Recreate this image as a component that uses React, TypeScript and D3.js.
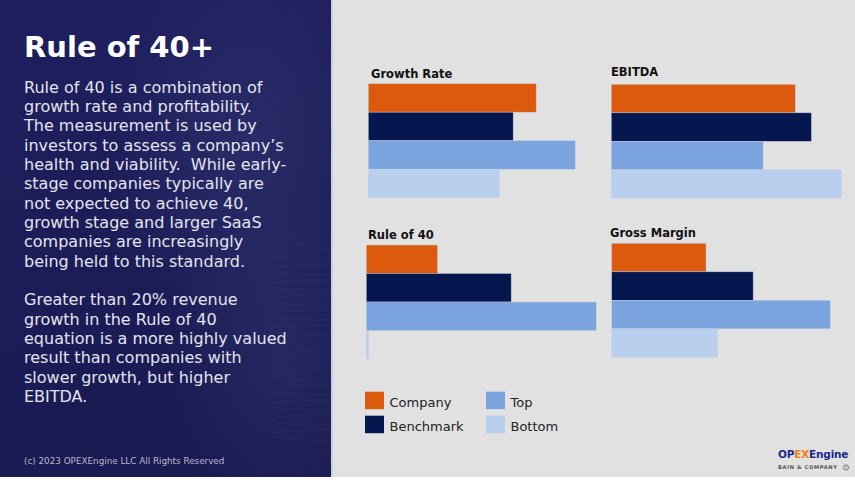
import React from "react";
import * as d3 from "d3";

const categories = ["Company", "Benchmark", "Top", "Bottom"];
const colors = ["#DC5A0E", "#06164F", "#7BA3DE", "#B9CFEE"];
const panelTitles = ["Growth Rate", "EBITDA", "Rule of 40", "Gross Margin"];
const growthRate = [73, 63, 90, 57];
const ebitda = [80, 87, 66, 100];
const ruleOf40 = [31, 63, 100, 1];
const grossMargin = [41, 61.5, 95, 46];

const bodyLines = [
  "Rule of 40 is a combination of",
  "growth rate and profitability.",
  "The measurement is used by",
  "investors to assess a company\u2019s",
  "health and viability.  While early-",
  "stage companies typically are",
  "not expected to achieve 40,",
  "growth stage and larger SaaS",
  "companies are increasingly",
  "being held to this standard.",
  "",
  "Greater than 20% revenue",
  "growth in the Rule of 40",
  "equation is a more highly valued",
  "result than companies with",
  "slower growth, but higher",
  "EBITDA.",
];

const W = 855;
const H = 480;
const FONT = "'DejaVu Sans', sans-serif";

const panels = [
  { values: growthRate, x: 368.3, y: 83.7, tx: 371, ty: 77.7 },
  { values: ebitda, x: 611.3, y: 84.3, tx: 611, ty: 75.7 },
  { values: ruleOf40, x: 366.3, y: 245, tx: 368, ty: 239 },
  { values: grossMargin, x: 611.7, y: 243.3, tx: 610, ty: 236.7 },
];

export default function App() {
  const xScale = d3.scaleLinear().domain([0, 100]).range([0, 230]);
  const yScale = d3.scaleBand<string>().domain(categories).range([0, 114]).padding(0);

  return (
    <div style={{ position: "absolute", left: 0, top: 0 }}>
      <svg width={W} height={H} style={{ display: "block" }}>
        <defs>
          <linearGradient id="panelBg" x1="0" y1="0" x2="0.3" y2="1">
            <stop offset="0" stopColor="#1E1F5E" />
            <stop offset="0.5" stopColor="#1C1D58" />
            <stop offset="1" stopColor="#1A1B52" />
          </linearGradient>
          <radialGradient id="glow1" cx="0.75" cy="0.3" r="0.45">
            <stop offset="0" stopColor="#4A4F8E" stopOpacity="0.3" />
            <stop offset="1" stopColor="#4A4F8E" stopOpacity="0" />
          </radialGradient>
          <radialGradient id="glow2" cx="0.85" cy="0.75" r="0.35">
            <stop offset="0" stopColor="#3E4380" stopOpacity="0.3" />
            <stop offset="1" stopColor="#3E4380" stopOpacity="0" />
          </radialGradient>
          <clipPath id="panelClip">
            <rect x={0} y={0} width={331} height={477} />
          </clipPath>
        </defs>
        <rect x={0} y={0} width={W} height={H} fill="#FFFFFF" />
        <rect x={0} y={0} width={W} height={477} fill="#E1E1E1" />
        {/* left panel */}
        <rect x={0} y={0} width={331} height={477} fill="url(#panelBg)" />
        <rect x={0} y={0} width={331} height={477} fill="url(#glow1)" />
        <rect x={0} y={0} width={331} height={477} fill="url(#glow2)" />
        <g clipPath="url(#panelClip)">
          {d3.range(14).map((i) => (
            <ellipse
              key={i}
              cx={320}
              cy={240 + i * 15}
              rx={50}
              ry={5}
              fill="none"
              stroke="#5A5F9A"
              strokeOpacity={0.12}
              strokeWidth={1}
            />
          ))}
        </g>
        <rect x={331} y={0} width={2} height={477} fill="#C9CCE6" />
        <text x={24} y={56.5} fill="#FFFFFF" fontFamily={FONT} fontWeight="bold" fontSize={29}>
          Rule of 40+
        </text>
        {bodyLines.map((line, i) => (
          <text
            key={i}
            x={24}
            y={92.7 + i * 19.33}
            fill="#E4E4EE"
            fontFamily={FONT}
            fontSize={16}
            style={{ whiteSpace: "pre" }}
          >
            {line}
          </text>
        ))}
        <text x={24} y={464} fill="#B8B9D0" fontFamily={FONT} fontSize={8.8}>
          (c) 2023 OPEXEngine LLC All Rights Reserved
        </text>

        {/* bar panels */}
        {panels.map((p, pi) => (
          <g key={pi}>
            <text x={p.tx} y={p.ty} fill="#111111" fontFamily={FONT} fontWeight="bold" fontSize={11.5}>
              {panelTitles[pi]}
            </text>
            <g transform={`translate(${p.x},${p.y})`}>
              {p.values.map((v, i) => (
                <rect
                  key={i}
                  x={0}
                  y={yScale(categories[i])}
                  width={xScale(v)}
                  height={yScale.bandwidth()}
                  fill={colors[i]}
                  stroke="#C5CFE0"
                  strokeWidth={0.6}
                  strokeOpacity={0.7}
                />
              ))}
            </g>
          </g>
        ))}

        {/* legend */}
        {categories.map((c, i) => {
          const col = Math.floor(i / 2);
          const row = i % 2;
          const lx = 365 + col * 121;
          const ly = 391.7 + row * 24;
          return (
            <g key={c}>
              <rect x={lx} y={ly} width={19} height={17.5} fill={colors[i]} />
              <text x={lx + 24.5} y={ly + 15} fill="#222222" fontFamily={FONT} fontSize={13}>
                {c}
              </text>
            </g>
          );
        })}

        {/* logo */}
        <text x={778} y={458.3} fontFamily={FONT} fontWeight="bold" fontSize={10.5} letterSpacing={-0.2}>
          <tspan fill="#1A2A8C">OP</tspan>
          <tspan fill="#F08214">EX</tspan>
          <tspan fill="#1A2A8C">Engine</tspan>
        </text>
        <text x={778} y={469.3} fill="#555555" fontFamily={FONT} fontWeight="bold" fontSize={5.2} letterSpacing={0.6}>
          BAIN &amp; COMPANY
        </text>
        <circle cx={846} cy={467.5} r={2.6} fill="none" stroke="#555555" strokeWidth={0.7} />
        <path d="M846,466 L846,467.6 L847.2,468.3" fill="none" stroke="#555555" strokeWidth={0.6} />
      </svg>
    </div>
  );
}
